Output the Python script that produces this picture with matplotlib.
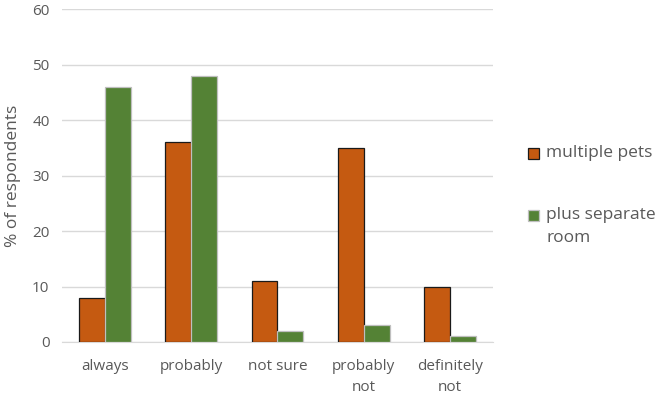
import numpy as np
import matplotlib.pyplot as plt
from matplotlib.patches import Rectangle

categories = ['always', 'probably', 'not sure', 'probably\nnot', 'definitely\nnot']
multiple_pets = [8, 36, 11, 35, 10]
separate_room = [46, 48, 2, 3, 1]
series_names = ['multiple pets', 'plus separate\nroom']

plt.rcParams['font.family'] = ['Open Sans', 'DejaVu Sans']
txt = '#595959'
W, H = 664, 394

fig = plt.figure(figsize=(6.64, 3.94), dpi=100)
ax = fig.add_axes([0.0934, 0.132, 0.649, 0.845])

x = np.arange(len(categories))
w = 0.30
styles = [dict(color='#C55A11', edgecolor='#1a1a1a'), dict(color='#548235', edgecolor='#bfbfbf')]
ax.bar(x - w / 2, multiple_pets, w, linewidth=0.9, zorder=3, **styles[0])
ax.bar(x + w / 2, separate_room, w, linewidth=0.9, zorder=3, **styles[1])

ax.set_xlim(-0.5, len(categories) - 0.5)
ax.set_ylim(0, 60)
ax.set_yticks(range(0, 61, 10))
ax.yaxis.grid(True, color='#d9d9d9', linewidth=1, zorder=0)
ax.set_xticks(x)
ax.set_xticklabels(categories, color=txt, fontsize=11, linespacing=1.6)
ax.tick_params(axis='y', colors=txt, labelsize=11, length=0, pad=9)
ax.tick_params(axis='x', length=0, pad=12)
for s in ['top', 'right', 'left']:
    ax.spines[s].set_visible(False)
ax.spines['bottom'].set_color('#d9d9d9')
ax.set_ylabel('% of respondents', color=txt, fontsize=12.5, labelpad=8)

# legend drawn by hand so the marker sits on the first text line, as in the original
for name, st, yline in zip(series_names, styles, [153, 215]):
    fig.patches.append(Rectangle((528 / W, 1 - (yline + 6) / H), 11 / W, 11 / H,
                                 transform=fig.transFigure, facecolor=st['color'],
                                 edgecolor=st['edgecolor'], linewidth=0.9))
    fig.text(546 / W, 1 - (yline - 8) / H, name, color=txt, fontsize=12.5,
             va='top', ha='left', linespacing=1.55)

fig.savefig('out.png', dpi=100)
